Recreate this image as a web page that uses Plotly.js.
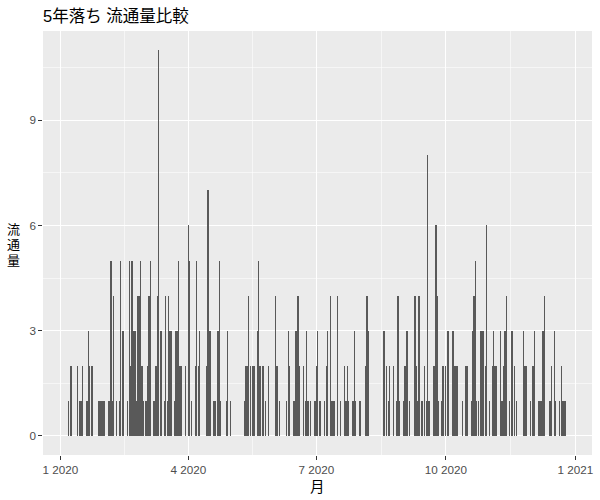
<!DOCTYPE html>
<html><head><meta charset="utf-8">
<script src="https://cdn.plot.ly/plotly-3.0.1.min.js"></script>
<style>html,body{margin:0;padding:0;background:#fff}</style>
</head><body>
<div id="chart" style="width:600px;height:500px"></div>
<script>
const dates = [
'2020-01-07','2020-01-08','2020-01-09','2020-01-13','2020-01-15','2020-01-16','2020-01-17','2020-01-20','2020-01-21','2020-01-22','2020-01-23','2020-01-24','2020-01-28','2020-01-29','2020-01-30','2020-01-31',
'2020-02-01','2020-02-04','2020-02-05','2020-02-06','2020-02-07','2020-02-08','2020-02-10','2020-02-12','2020-02-13','2020-02-14','2020-02-15','2020-02-18','2020-02-19','2020-02-20','2020-02-21','2020-02-22','2020-02-23','2020-02-24','2020-02-25','2020-02-26','2020-02-27','2020-02-28','2020-02-29',
'2020-03-02','2020-03-03','2020-03-04','2020-03-05','2020-03-07','2020-03-08','2020-03-09','2020-03-10','2020-03-11','2020-03-12','2020-03-13','2020-03-15','2020-03-16','2020-03-17','2020-03-18','2020-03-19','2020-03-20','2020-03-22','2020-03-23','2020-03-24','2020-03-25','2020-03-26','2020-03-27','2020-03-30',
'2020-04-01','2020-04-02','2020-04-03','2020-04-06','2020-04-07','2020-04-08','2020-04-09','2020-04-14','2020-04-15','2020-04-16','2020-04-17','2020-04-19','2020-04-20','2020-04-22','2020-04-23','2020-04-24','2020-04-28','2020-04-29',
'2020-05-01','2020-05-11','2020-05-12','2020-05-13','2020-05-14','2020-05-15','2020-05-17','2020-05-18','2020-05-20','2020-05-21','2020-05-22','2020-05-24','2020-05-26','2020-05-28',
'2020-06-02','2020-06-03','2020-06-05','2020-06-10','2020-06-11','2020-06-12','2020-06-15','2020-06-16','2020-06-17','2020-06-18','2020-06-19','2020-06-22','2020-06-23','2020-06-24','2020-06-25','2020-06-27','2020-06-30',
'2020-07-01','2020-07-02','2020-07-03','2020-07-04','2020-07-07','2020-07-08','2020-07-09','2020-07-11','2020-07-12','2020-07-13','2020-07-14','2020-07-16','2020-07-18','2020-07-21','2020-07-22','2020-07-23','2020-07-24','2020-07-27','2020-07-28','2020-07-29',
'2020-08-01','2020-08-05','2020-08-06','2020-08-07','2020-08-18','2020-08-20','2020-08-21','2020-08-22','2020-08-25','2020-08-27','2020-08-28','2020-08-29',
'2020-09-01','2020-09-02','2020-09-03','2020-09-04','2020-09-05','2020-09-09','2020-09-10','2020-09-11','2020-09-12','2020-09-14','2020-09-16','2020-09-17','2020-09-18','2020-09-19','2020-09-22','2020-09-23','2020-09-24','2020-09-25','2020-09-26','2020-09-28','2020-09-29',
'2020-10-01','2020-10-02','2020-10-03','2020-10-06','2020-10-07','2020-10-08','2020-10-09','2020-10-13','2020-10-15','2020-10-16','2020-10-19','2020-10-20','2020-10-21','2020-10-22','2020-10-23','2020-10-24','2020-10-26','2020-10-27','2020-10-28','2020-10-29','2020-10-30',
'2020-11-01','2020-11-03','2020-11-04','2020-11-05','2020-11-06','2020-11-09','2020-11-10','2020-11-11','2020-11-12','2020-11-13','2020-11-15','2020-11-17','2020-11-19','2020-11-20','2020-11-25','2020-11-26','2020-11-27','2020-11-30',
'2020-12-02','2020-12-03','2020-12-06','2020-12-07','2020-12-08','2020-12-09','2020-12-10','2020-12-14','2020-12-15','2020-12-17','2020-12-18','2020-12-21','2020-12-22','2020-12-23','2020-12-24','2020-12-25'
];
const counts = [
1,2,2,2,1,1,2,1,3,2,2,2,1,1,1,1,
1,1,1,5,1,4,1,1,5,3,3,1,5,2,5,3,3,1,4,4,5,2,1,
1,2,4,5,1,1,2,4,11,3,3,1,4,1,4,3,3,1,3,3,5,2,2,2,
6,5,1,2,5,2,3,2,7,3,3,1,1,3,5,1,1,3,
1,1,2,2,4,2,2,2,3,5,2,2,1,2,
4,2,1,1,3,2,1,3,3,4,2,2,1,3,1,1,1,
2,3,1,1,1,2,3,4,1,1,1,4,1,2,1,2,1,1,3,1,
1,2,4,3,3,2,1,2,2,1,4,1,
1,2,3,3,1,4,2,1,4,1,2,1,8,1,2,2,6,4,1,1,2,
2,3,3,3,2,2,2,1,2,2,1,3,4,5,1,1,3,3,3,2,6,
1,2,3,2,2,3,1,2,3,4,1,3,2,1,3,2,2,1,
2,3,1,1,1,3,4,1,2,3,1,1,2,1,1,1
];
const xTickVals = ['2020-01-01','2020-04-01','2020-07-01','2020-10-01','2021-01-01'];
const xTickText = ['1 2020','4 2020','7 2020','10 2020','1 2021'];
const xMinorVals = ['2020-02-15 12:00','2020-05-16 12:00','2020-08-16','2020-11-16'];
const yTickVals = [0,3,6,9];
const yMinorVals = [1.5,4.5,7.5,10.5];
const titleText = '5年落ち 流通量比較';
const xTitle = '月';
const yTitleChars = ['流','通','量'];

const tickFont = {family:'Liberation Sans, Arial, sans-serif', size:11.7, color:'#4D4D4D'};
const cjk = 'Liberation Sans, Noto Sans CJK JP, sans-serif';

const trace = {
  type:'bar', x:dates, y:counts,
  width: 0.9*86400000,
  marker:{color:'#595959', line:{width:0}},
  hoverinfo:'skip'
};

const plotTop = 31, plotH = 424, plotL = 43, plotW = 549;
const annotations = yTitleChars.map((c,i)=>({
  text:c, xref:'paper', yref:'paper',
  x:(13-plotL)/plotW, y:1-((229+15.5*i)-plotTop)/plotH,
  xanchor:'center', yanchor:'middle', showarrow:false,
  font:{family:cjk, size:13, color:'#000'}
}));
annotations.push({
  text:xTitle, xref:'paper', yref:'paper',
  x:(317-plotL)/plotW, y:-(487-(plotTop+plotH))/plotH,
  xanchor:'center', yanchor:'middle', showarrow:false,
  font:{family:cjk, size:14.5, color:'#000'}
});

const layout = {
  width:600, height:500,
  margin:{l:plotL, r:600-plotL-plotW, t:plotTop, b:500-plotTop-plotH, pad:0},
  paper_bgcolor:'#FFFFFF', plot_bgcolor:'#EBEBEB',
  showlegend:false, hovermode:false,
  title:{text:titleText, x:43/600, xanchor:'left', xref:'container',
         y:1-16/500, yanchor:'middle', yref:'container',
         font:{family:cjk, size:16.5, color:'#000'}},
  xaxis:{
    type:'date', range:['2019-12-19 17:00','2021-01-12 21:00'],
    tickmode:'array', tickvals:xTickVals, ticktext:xTickText,
    tickfont:tickFont, ticks:'outside', ticklen:3.6, tickwidth:1.07, tickcolor:'#333333',
    showgrid:true, gridcolor:'#FFFFFF', gridwidth:1.07,
    minor:{tickmode:'array', tickvals:xMinorVals, showgrid:true, gridcolor:'#FFFFFF', gridwidth:0.53, ticks:''},
    zeroline:false, showline:false, fixedrange:true
  },
  yaxis:{
    range:[-0.55, 11.55],
    tickmode:'array', tickvals:yTickVals, ticktext:yTickVals.map(String),
    tickfont:tickFont, ticks:'outside', ticklen:3.6, tickwidth:1.07, tickcolor:'#333333',
    showgrid:true, gridcolor:'#FFFFFF', gridwidth:1.07,
    minor:{tickmode:'array', tickvals:yMinorVals, showgrid:true, gridcolor:'#FFFFFF', gridwidth:0.53, ticks:''},
    zeroline:false, showline:false, fixedrange:true
  },
  annotations:annotations,
  bargap:0
};

Plotly.newPlot('chart', [trace], layout, {displayModeBar:false, staticPlot:true});
</script>
</body></html>
